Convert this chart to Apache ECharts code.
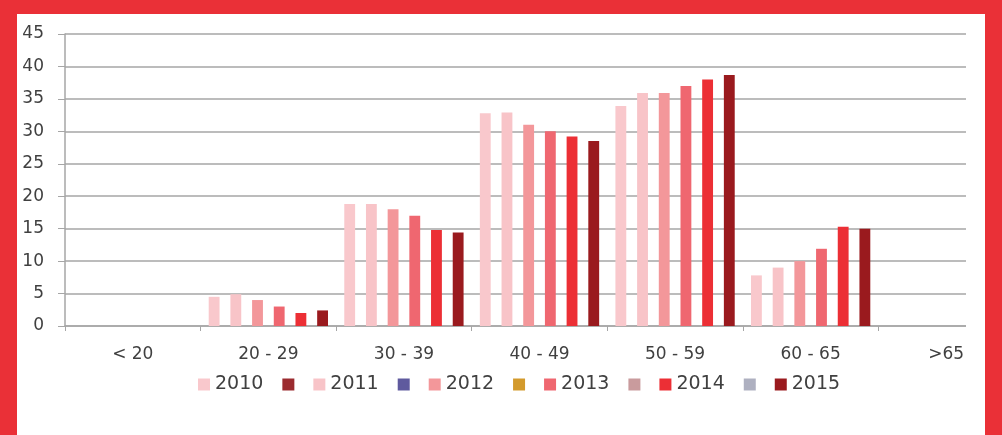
<!DOCTYPE html>
<html>
<head>
<meta charset="utf-8">
<script src="https://cdn.jsdelivr.net/npm/echarts@6/dist/echarts.min.js"></script>
<style>
  html, body { margin: 0; padding: 0; background: #ea3037; width: 1002px; height: 435px; overflow: hidden; }
  #panel { position: absolute; left: 17px; top: 14px; width: 968px; height: 421px; background: #fff; }
  #clip { position: absolute; left: 0; top: 0; width: 949px; height: 421px; overflow: hidden; }
  #chart { position: absolute; left: 0; top: 0; width: 1000px; height: 421px; }
</style>
</head>
<body>
<div id="panel"><div id="clip"><div id="chart"></div></div></div>
<script>
var categories = ['< 20', '20 - 29', '30 - 39', '40 - 49', '50 - 59', '60 - 65', '>65'];
var yTicks = { min: 0, max: 45, interval: 5 };

var seriesNames = ['2010', '_a', '2011', '_b', '2012', '_c', '2013', '_d', '2014', '_e', '2015'];
var seriesColors = ['#f9c8cc', '#9b2b2f', '#f8c4c8', '#5f5a9e', '#f3979a', '#d39a2c', '#ef6770', '#c99b9d', '#ec2f35', '#aeb0c0', '#9a1a1e'];

var v2010 = [null, 4.5, 18.8, 32.8, 33.9, 7.8, null];
var v2011 = [null, 4.9, 18.8, 32.9, 35.9, 9.0, null];
var v2012 = [null, 4.0, 18.0, 31.0, 35.9, 10.0, null];
var v2013 = [null, 3.0, 17.0, 30.0, 37.0, 11.9, null];
var v2014 = [null, 2.0, 14.8, 29.2, 38.0, 15.3, null];
var v2015 = [null, 2.4, 14.4, 28.5, 38.7, 15.0, null];
var vBlank = [null, null, null, null, null, null, null];

var seriesValues = [v2010, vBlank, v2011, vBlank, v2012, vBlank, v2013, vBlank, v2014, vBlank, v2015];

var FONT = 'DejaVu Sans';
var chart = echarts.init(document.getElementById('chart'), null, { renderer: 'canvas' });

var series = seriesNames.map(function (n, i) {
  return {
    name: n,
    type: 'bar',
    data: seriesValues[i],
    barGap: '0%',
    barCategoryGap: '12%',
    itemStyle: { color: seriesColors[i] }
  };
});

chart.setOption({
  animation: false,
  grid: { left: 48, top: 20, width: 949, height: 292, containLabel: false },
  legend: {
    left: 181,
    top: 361,
    padding: 0,
    itemWidth: 12,
    itemHeight: 12,
    itemGap: 19,
    icon: 'rect',
    textStyle: { fontFamily: FONT, fontSize: 19, color: '#404040' },
    formatter: function (name) { return name.charAt(0) === '_' ? '' : name; }
  },
  xAxis: {
    type: 'category',
    data: categories,
    axisLine: { lineStyle: { color: '#a6a6a6', width: 1.5 } },
    axisTick: { show: true, length: 5, lineStyle: { color: '#a6a6a6' } },
    axisLabel: { fontFamily: FONT, fontSize: 17, color: '#404040', margin: 20 },
    splitLine: { show: false }
  },
  yAxis: {
    type: 'value',
    min: yTicks.min,
    max: yTicks.max,
    interval: yTicks.interval,
    axisLine: { show: true, lineStyle: { color: '#a6a6a6', width: 1.5 } },
    axisTick: { show: true, length: 7, lineStyle: { color: '#a6a6a6' } },
    axisLabel: { fontFamily: FONT, fontSize: 17, color: '#404040', margin: 21 },
    splitLine: { lineStyle: { color: '#bcbcbc', width: 2 } }
  },
  series: series
});
</script>
</body>
</html>
